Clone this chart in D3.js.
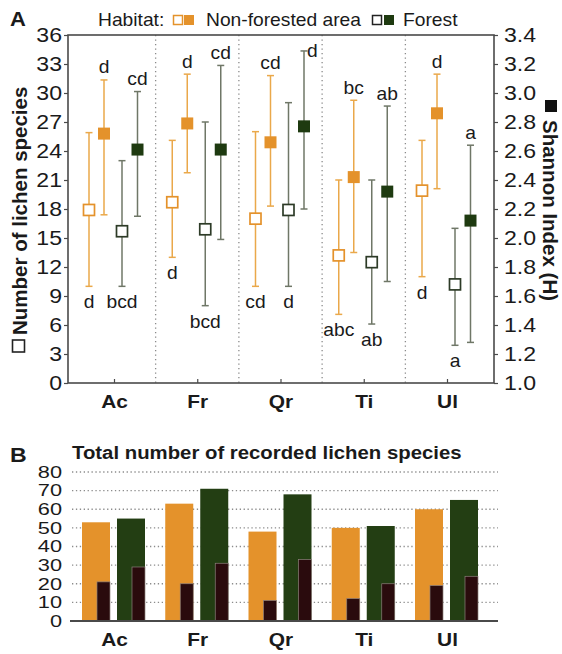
<!DOCTYPE html>
<html>
<head>
<meta charset="utf-8">
<script src="https://cdn.jsdelivr.net/npm/d3@7"></script>
<style>
  body { margin: 0; background: #fff; }
  svg { display: block; }
  text { font-family: "Liberation Sans", Arial, Helvetica, sans-serif; fill: #1a1a1a; }
</style>
</head>
<body>
<svg id="chart" width="562" height="654"></svg>
<script>
// ---- data -------------------------------------------------------------
const categories = ["Ac", "Fr", "Qr", "Ti", "Ul"];

// number of lichen species per plot (mean, lower and upper whisker)
const richNonForest     = [17.9, 18.7, 17.0, 13.2, 19.9];
const richNonForestLow  = [10.0, 13.0, 10.0, 7.1, 11.0];
const richNonForestHigh = [25.9, 25.1, 26.0, 21.0, 25.1];
const richForest        = [15.7, 15.9, 17.9, 12.5, 10.2];
const richForestLow     = [10.0, 8.0, 10.0, 6.1, 3.9];
const richForestHigh    = [23.0, 27.0, 29.0, 21.0, 16.0];

// Shannon index (H)
const shanNonForest     = [2.72, 2.79, 2.66, 2.42, 2.86];
const shanNonForestLow  = [2.16, 2.45, 2.22, 1.90, 2.34];
const shanNonForestHigh = [3.09, 3.13, 3.12, 2.95, 3.13];
const shanForest        = [2.61, 2.61, 2.77, 2.32, 2.12];
const shanForestLow     = [2.15, 1.99, 2.20, 1.70, 1.28];
const shanForestHigh    = [3.01, 3.19, 3.29, 2.91, 2.64];

// homogeneous-group letters
const richNonForestGroups = ["d", "d", "cd", "abc", "d"];
const richForestGroups    = ["bcd", "bcd", "d", "ab", "a"];
const shanNonForestGroups = ["d", "d", "cd", "bc", "d"];
const shanForestGroups    = ["cd", "cd", "d", "ab", "a"];

// total number of recorded species and the part found only in that habitat
const totalNonForest     = [53, 63, 48, 50, 60];
const exclusiveNonForest = [21, 20, 11, 12, 19];
const totalForest        = [55, 71, 68, 51, 65];
const exclusiveForest    = [29, 31, 33, 20, 24];

const richTicks  = d3.range(0, 37, 3);
const shanTicks  = d3.range(10, 35, 2).map(v => v / 10);
const totalTicks = d3.range(0, 81, 10);

// ---- styling ------------------------------------------------------------
const ORANGE = "#E4922B", ORANGE_BAR = "#EAA84A";
const GREEN = "#1E3A10", GREEN_OPEN = "#2D3B27", GREEN_BAR = "#6F7767";
const DARK = "#2A0B0D";
const SX = 1.1; // horizontal glyph stretch

const svg = d3.select("#chart");

function wideText(g, x, y, str, size, weight, anchor, sx) {
  return g.append("text")
    .attr("transform", `translate(${x},${y}) scale(${sx || SX},1)`)
    .attr("text-anchor", anchor || "start")
    .style("font-size", size + "px")
    .style("font-weight", weight || "normal")
    .text(str);
}
function stretchAxisText(axisG, size, weight, sx) {
  const k = sx || SX;
  axisG.selectAll("text").each(function () {
    const t = d3.select(this);
    const x = +t.attr("x") || 0;
    t.attr("x", x / k).attr("transform", `scale(${k},1)`)
     .style("font-size", size + "px").style("font-weight", weight || "normal")
     .style("font-family", '"Liberation Sans", Arial, sans-serif').attr("fill", "#1a1a1a");
  });
}

// ---- panel A: richness and diversity ---------------------------------------
const A = { left: 68, right: 494, top: 35, bottom: 383 };
const xA = d3.scalePoint().domain(categories).range([A.left + 46, A.right - 47]);
const step = xA.step();
const yN = d3.scaleLinear().domain([0, 36]).range([A.bottom, A.top]);
const yH = d3.scaleLinear().domain([1.0, 3.4]).range([A.bottom, A.top]);

const gA = svg.append("g");

// category separators
gA.selectAll("line.sep").data(categories.slice(0, -1)).join("line")
  .attr("x1", d => xA(d) + step / 2).attr("x2", d => xA(d) + step / 2)
  .attr("y1", A.top).attr("y2", A.bottom)
  .attr("stroke", "#8a8a8a").attr("stroke-width", 1.3).attr("stroke-dasharray", "1.3,3.2");

// frame
gA.append("rect").attr("x", A.left).attr("y", A.top)
  .attr("width", A.right - A.left).attr("height", A.bottom - A.top)
  .attr("fill", "none").attr("stroke", "#4a4a4a").attr("stroke-width", 1.6);

// axes
const axL = gA.append("g").attr("transform", `translate(${A.left},0)`)
  .call(d3.axisLeft(yN).tickValues(richTicks).tickSize(4).tickPadding(2));
axL.select(".domain").remove();
axL.selectAll("line").attr("stroke", "#4a4a4a").attr("stroke-width", 1.2);
stretchAxisText(axL, 21);

const axR = gA.append("g").attr("transform", `translate(${A.right},0)`)
  .call(d3.axisRight(yH).tickValues(shanTicks).tickFormat(d3.format(".1f")).tickSize(4).tickPadding(6));
axR.select(".domain").remove();
axR.selectAll("line").attr("stroke", "#4a4a4a").attr("stroke-width", 1.2);
stretchAxisText(axR, 21);

const axB = gA.append("g").attr("transform", `translate(0,${A.bottom})`)
  .call(d3.axisBottom(xA).tickSize(-4).tickPadding(12));
axB.select(".domain").remove();
axB.selectAll("line").attr("stroke", "#4a4a4a").attr("stroke-width", 1.2);
stretchAxisText(axB, 19, "bold");

// series of markers with whiskers
const series = [
  { mean: richNonForest, lo: richNonForestLow, hi: richNonForestHigh, y: yN, dx: -25,
    open: true, color: ORANGE, bar: ORANGE_BAR, letters: richNonForestGroups },
  { mean: shanNonForest, lo: shanNonForestLow, hi: shanNonForestHigh, y: yH, dx: -10,
    open: false, color: ORANGE, bar: ORANGE_BAR, letters: shanNonForestGroups },
  { mean: richForest, lo: richForestLow, hi: richForestHigh, y: yN, dx: 8,
    open: true, color: GREEN_OPEN, bar: GREEN_BAR, letters: richForestGroups },
  { mean: shanForest, lo: shanForestLow, hi: shanForestHigh, y: yH, dx: 23.5,
    open: false, color: GREEN, bar: GREEN_BAR, letters: shanForestGroups }
];

series.forEach(s => {
  const g = gA.append("g");
  categories.forEach((c, i) => {
    const cx = xA(c) + s.dx;
    const yHi = s.y(s.hi[i]), yLo = s.y(s.lo[i]), yM = s.y(s.mean[i]);
    g.append("line").attr("x1", cx).attr("x2", cx).attr("y1", yHi).attr("y2", yLo)
      .attr("stroke", s.bar).attr("stroke-width", 1.5);
    [yHi, yLo].forEach(yy => g.append("line")
      .attr("x1", cx - 3.5).attr("x2", cx + 3.5).attr("y1", yy).attr("y2", yy)
      .attr("stroke", s.bar).attr("stroke-width", 1.5));
    if (s.open) {
      g.append("rect").attr("x", cx - 5.5).attr("y", yM - 5.5).attr("width", 11).attr("height", 11)
        .attr("fill", "#fff").attr("stroke", s.color).attr("stroke-width", 1.7);
      wideText(g, cx, yLo + 22, s.letters[i], 17.5, "normal", "middle");
    } else {
      g.append("rect").attr("x", cx - 6).attr("y", yM - 6).attr("width", 12).attr("height", 12)
        .attr("fill", s.color);
      if (yHi - 20 < A.top) {
        wideText(g, cx + 3, yHi + 6, s.letters[i], 17.5, "normal", "start");
      } else {
        wideText(g, cx, yHi - 6.5, s.letters[i], 17.5, "normal", "middle");
      }
    }
  });
});

// axis titles
const lt = svg.append("g");
lt.append("text").attr("transform", "translate(27,335) rotate(-90)")
  .style("font-size", "20.5px").style("font-weight", "bold").text("Number of lichen species");
lt.append("rect").attr("x", 12.5).attr("y", 340).attr("width", 12).attr("height", 12)
  .attr("fill", "none").attr("stroke", "#222").attr("stroke-width", 1.6);
lt.append("text").attr("transform", "translate(543,120) rotate(90)")
  .style("font-size", "20.5px").style("font-weight", "bold").text("Shannon Index (H)");
lt.append("rect").attr("x", 545).attr("y", 100).attr("width", 12).attr("height", 12).attr("fill", "#111");

// legend
const lg = svg.append("g");
wideText(lg, 10, 26, "A", 20, "bold");
wideText(lg, 98, 26, "Habitat:", 17.5);
lg.append("rect").attr("x", 173.5).attr("y", 15.5).attr("width", 9).attr("height", 9)
  .attr("fill", "#fff").attr("stroke", ORANGE).attr("stroke-width", 1.5);
lg.append("rect").attr("x", 184).attr("y", 15).attr("width", 10).attr("height", 10).attr("fill", ORANGE);
wideText(lg, 206, 26, "Non-forested area", 17.5);
lg.append("rect").attr("x", 372.5).attr("y", 15.5).attr("width", 9).attr("height", 9)
  .attr("fill", "#fff").attr("stroke", "#222").attr("stroke-width", 1.5);
lg.append("rect").attr("x", 384).attr("y", 15).attr("width", 10).attr("height", 10).attr("fill", GREEN);
wideText(lg, 403, 26, "Forest", 17.5);

// ---- panel B: totals ------------------------------------------------------
const B = { left: 72, right: 498, top: 472, bottom: 621 };
const yB = d3.scaleLinear().domain([0, 80]).range([B.bottom, B.top]);
const gB = svg.append("g");

wideText(gB, 10, 462, "B", 21, "bold");
wideText(gB, 72, 459, "Total number of recorded lichen species", 18.5, "bold");

gB.selectAll("line.grid").data(totalTicks.filter(d => d > 0)).join("line")
  .attr("x1", B.left).attr("x2", B.right).attr("y1", d => yB(d)).attr("y2", d => yB(d))
  .attr("stroke", "#8c8c8c").attr("stroke-width", 1.3).attr("stroke-dasharray", "1.3,2.6");

// tightly packed value labels: smaller glyphs widened to keep the column width
const axBL = gB.append("g").attr("transform", `translate(67,0)`)
  .call(d3.axisLeft(yB).tickValues(totalTicks).tickSize(0).tickPadding(5));
axBL.select(".domain").remove();
stretchAxisText(axBL, 16.5, "normal", 1.32);

const barW = 28, exW = 13;
categories.forEach((c, i) => {
  const cx = xA(c);
  const groups = [
    { x: cx - 32, total: totalNonForest[i], ex: exclusiveNonForest[i], color: ORANGE },
    { x: cx + 3, total: totalForest[i], ex: exclusiveForest[i], color: "#233E13" }
  ];
  groups.forEach(b => {
    gB.append("rect").attr("x", b.x).attr("y", yB(b.total))
      .attr("width", barW).attr("height", yB(0) - yB(b.total)).attr("fill", b.color);
    gB.append("rect").attr("x", b.x + barW - exW).attr("y", yB(b.ex))
      .attr("width", exW).attr("height", yB(0) - yB(b.ex))
      .attr("fill", DARK).attr("stroke", "#8d807c").attr("stroke-width", 0.7);
  });
});

gB.append("line").attr("x1", 70).attr("x2", B.right).attr("y1", B.bottom).attr("y2", B.bottom)
  .attr("stroke", "#4a4a4a").attr("stroke-width", 2);

const axBB = gB.append("g").attr("transform", `translate(0,${B.bottom})`)
  .call(d3.axisBottom(xA).tickSize(0).tickPadding(12));
axBB.select(".domain").remove();
stretchAxisText(axBB, 19, "bold");
</script>
</body>
</html>
